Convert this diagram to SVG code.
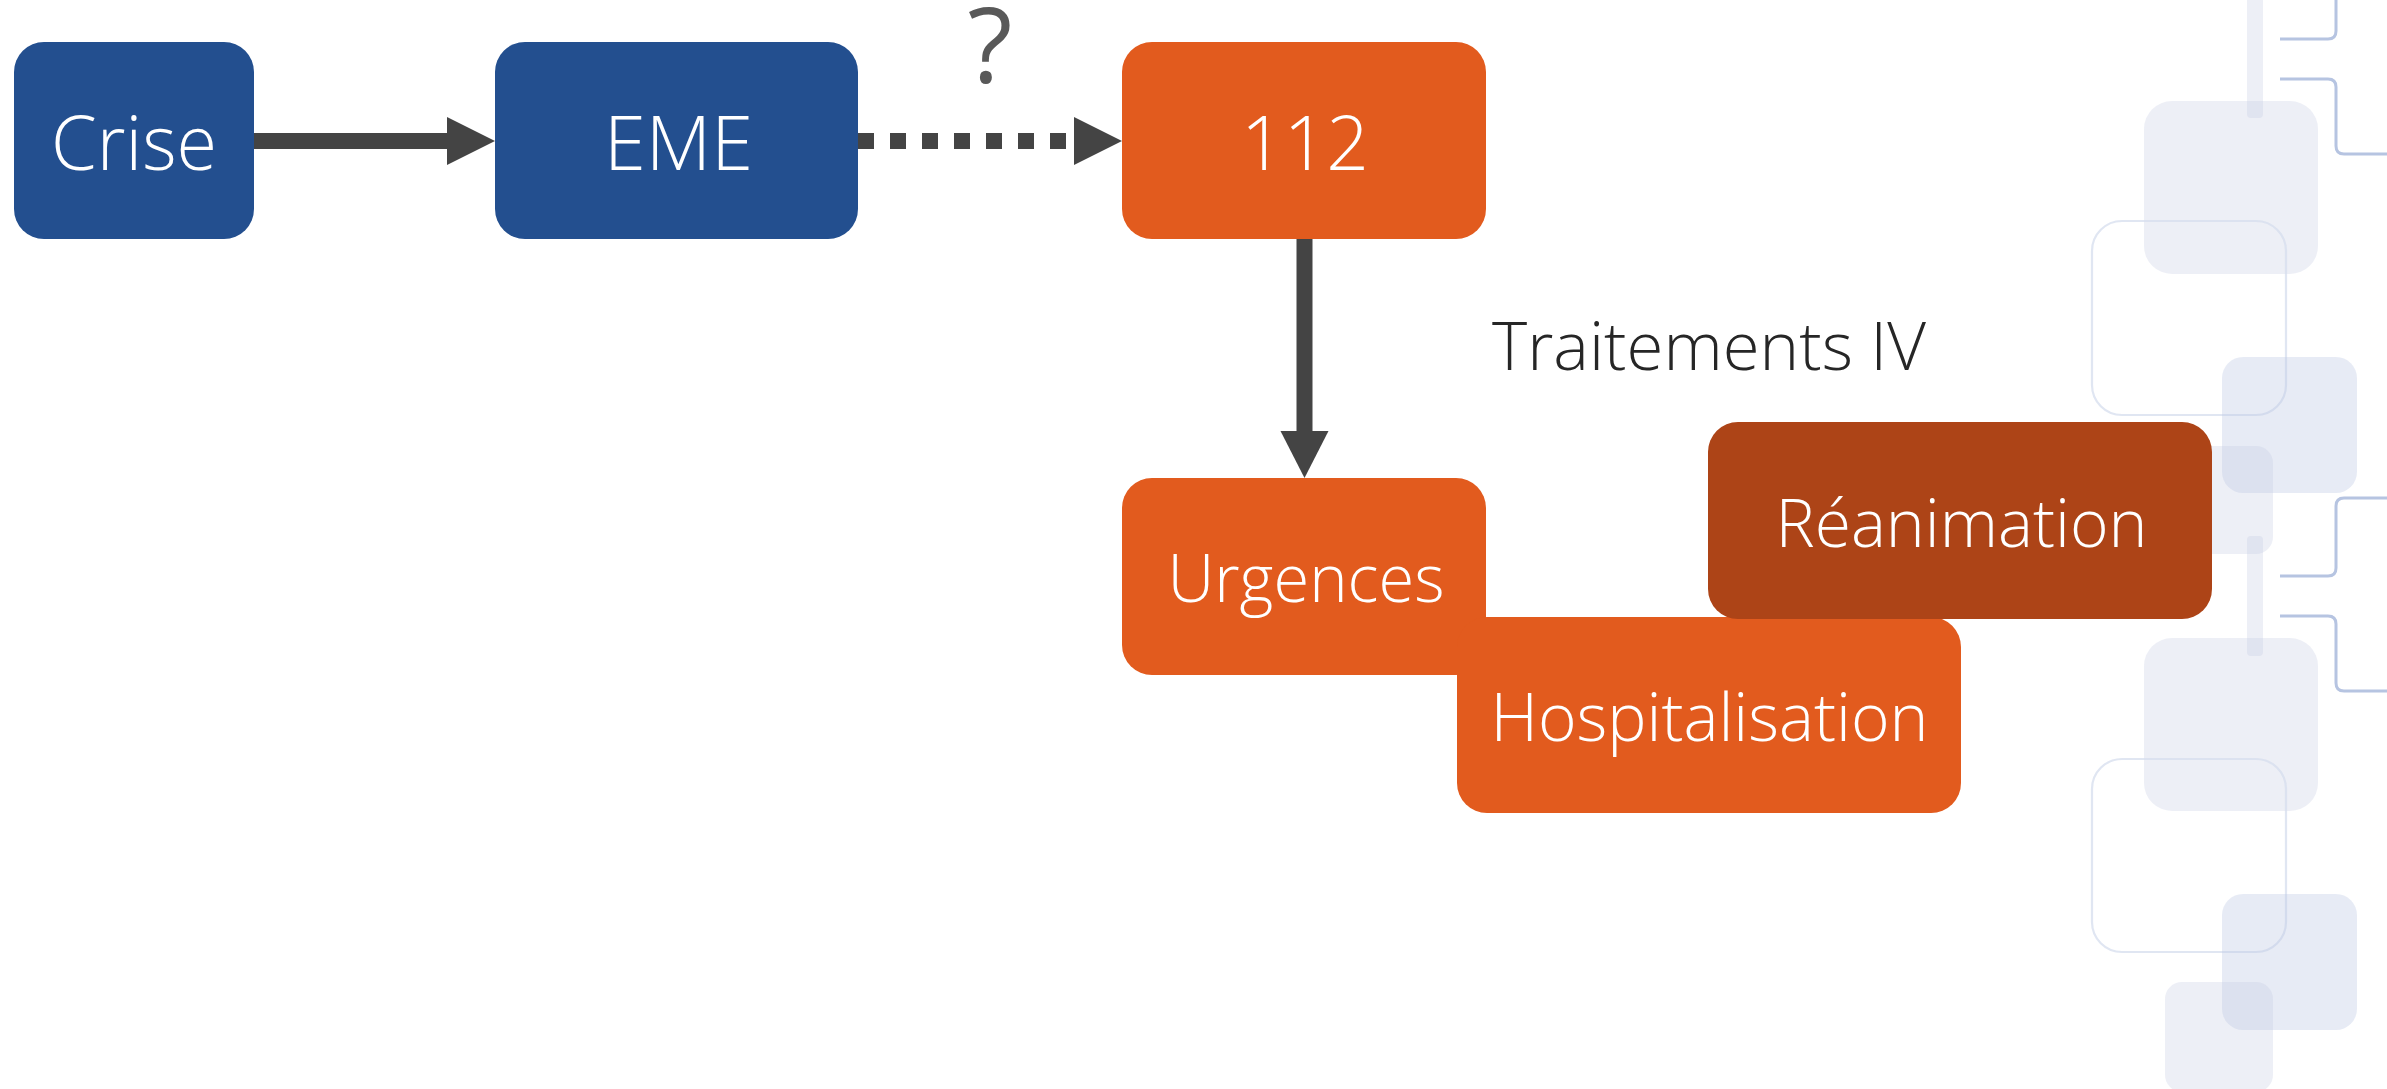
<svg xmlns="http://www.w3.org/2000/svg" width="2387" height="1089" viewBox="0 0 2387 1089">
  <style>
    .blue { fill: #234F8F; }
    .orange { fill: #E25B1E; }
    .dark { fill: #AD4417; }
    .lbl { font-family: "Open Sans", "Liberation Sans", sans-serif; font-weight: 300; fill: #FFFFFF; text-anchor: middle; }
    .big { font-size: 75.6px; }
    .small { font-size: 67px; }
    .deco-fill { fill: #C5CBE0; fill-opacity: 0.3; }
    .deco-fill2 { fill: #BCC8E4; fill-opacity: 0.36; }
    .deco-out { fill: none; stroke: #D6DDEE; stroke-width: 2.2; stroke-opacity: 0.75; }
    .deco-line { fill: none; stroke: #B6C4E1; stroke-width: 3; }
    .conn { stroke: #444444; stroke-width: 16; fill: none; }
    .head { fill: #444444; }
  </style>

  <rect x="0" y="0" width="2387" height="1089" fill="#FFFFFF"/>

  <g id="background-decoration">
    <rect class="deco-fill" x="2247" y="-20" width="16" height="138" rx="4"/>
    <path class="deco-line" d="M2387,-39 H2344 Q2336,-39 2336,-31 V31 Q2336,39 2328,39 H2280"/>
    <path class="deco-line" d="M2280,79 H2328 Q2336,79 2336,87 V146 Q2336,154 2344,154 H2387"/>
    <rect class="deco-fill" x="2144" y="101" width="174" height="173" rx="28"/>
    <rect class="deco-out" x="2092" y="221" width="194" height="194" rx="30"/>
    <rect class="deco-fill2" x="2222" y="357" width="135" height="136" rx="21"/>
    <rect class="deco-fill" x="2165" y="446" width="108" height="108" rx="17"/>
    <path class="deco-line" d="M2387,498 H2344 Q2336,498 2336,506 V568 Q2336,576 2328,576 H2280"/>
    <rect class="deco-fill" x="2247" y="536" width="16" height="120" rx="4"/>
    <path class="deco-line" d="M2280,616 H2328 Q2336,616 2336,624 V683 Q2336,691 2344,691 H2387"/>
    <rect class="deco-fill" x="2144" y="638" width="174" height="173" rx="28"/>
    <rect class="deco-out" x="2092" y="759" width="194" height="193" rx="30"/>
    <rect class="deco-fill2" x="2222" y="894" width="135" height="136" rx="21"/>
    <rect class="deco-fill" x="2165" y="982" width="108" height="110" rx="17"/>
  </g>

  <g id="connectors">
    <line class="conn" x1="254" y1="141" x2="449" y2="141"/>
    <polygon class="head" points="447,117 495,141 447,165"/>
    <line class="conn" x1="858" y1="141" x2="1074" y2="141" stroke-dasharray="16 16"/>
    <polygon class="head" points="1074,117 1122,141 1074,165"/>
    <line class="conn" x1="1304.5" y1="239" x2="1304.5" y2="433"/>
    <polygon class="head" points="1280.5,431 1328.5,431 1304.5,478"/>
  </g>

  <g id="label-question">
    <text x="990" y="83" font-family="Open Sans, Liberation Sans, sans-serif" font-size="104" font-weight="400" fill="#595959" text-anchor="middle">?</text>
  </g>

  <g id="node-crise">
    <rect class="blue" x="14" y="42" width="240" height="197" rx="30"/>
    <text class="lbl big" x="134" y="170" textLength="166" lengthAdjust="spacingAndGlyphs">Crise</text>
  </g>

  <g id="node-eme">
    <rect class="blue" x="495" y="42" width="363" height="197" rx="30"/>
    <text class="lbl big" x="678.5" y="170" textLength="149" lengthAdjust="spacingAndGlyphs">EME</text>
  </g>

  <g id="node-112">
    <rect class="orange" x="1122" y="42" width="364" height="197" rx="30"/>
    <text class="lbl big" x="1305" y="170" textLength="128" lengthAdjust="spacingAndGlyphs">112</text>
  </g>

  <g id="label-traitements">
    <text x="1492" y="370" font-family="Open Sans, Liberation Sans, sans-serif" font-size="66" font-weight="300" fill="#262626" textLength="434" lengthAdjust="spacingAndGlyphs">Traitements IV</text>
  </g>

  <g id="node-urgences">
    <rect class="orange" x="1122" y="478" width="364" height="197" rx="30"/>
    <text class="lbl small" x="1306" y="602" textLength="277" lengthAdjust="spacingAndGlyphs">Urgences</text>
  </g>

  <g id="node-hospitalisation">
    <rect class="orange" x="1457" y="617" width="504" height="196" rx="30"/>
    <text class="lbl small" x="1709.5" y="741" textLength="438" lengthAdjust="spacingAndGlyphs">Hospitalisation</text>
  </g>

  <g id="node-reanimation">
    <rect class="dark" x="1708" y="422" width="504" height="197" rx="30"/>
    <text class="lbl small" x="1961.5" y="546.5" textLength="372" lengthAdjust="spacingAndGlyphs">Réanimation</text>
  </g>
</svg>
